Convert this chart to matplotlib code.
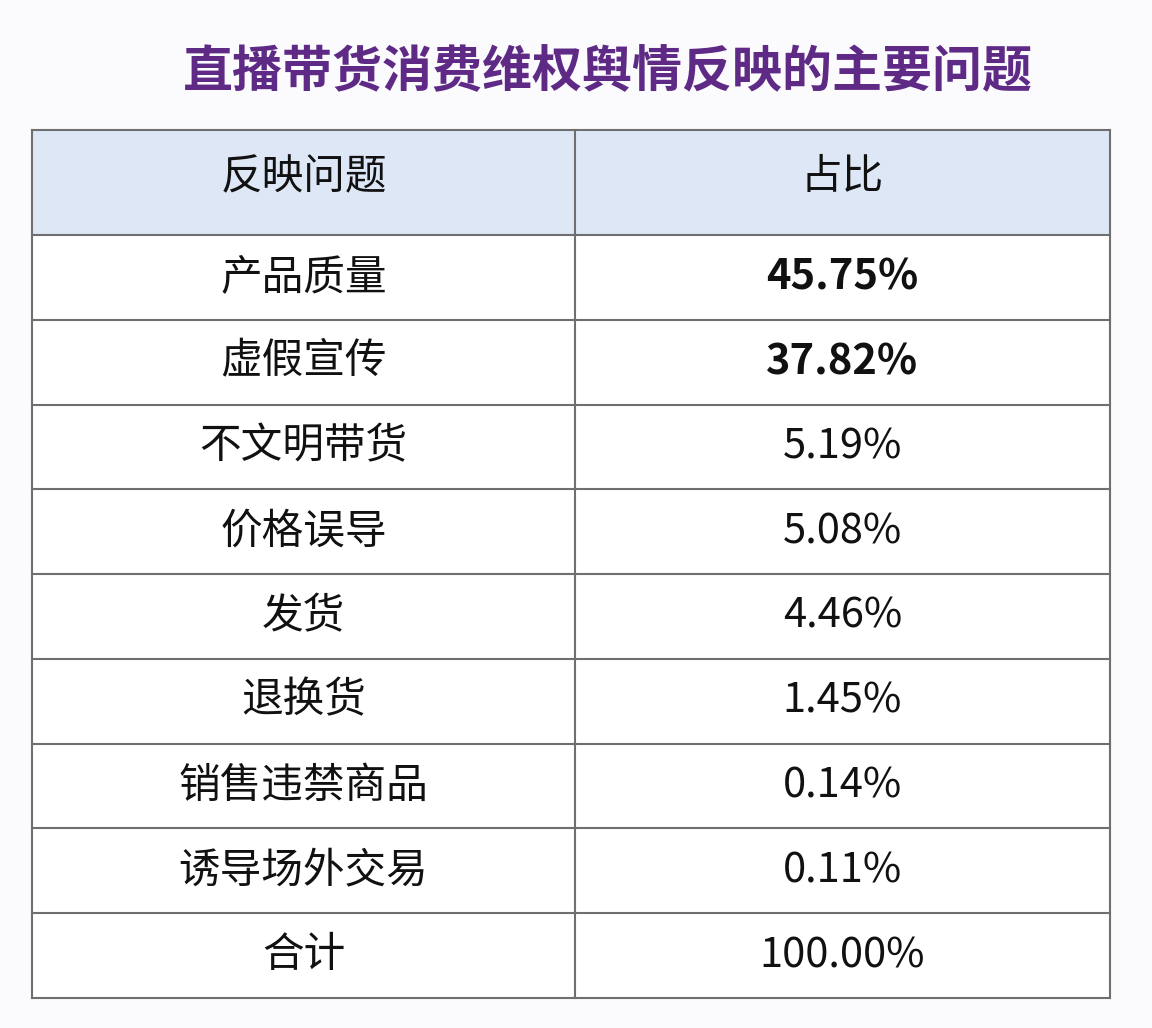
import matplotlib
matplotlib.use("Agg")
import matplotlib.pyplot as plt
from matplotlib.patches import Rectangle

plt.rcParams['font.family'] = ['Noto Sans CJK SC', 'DejaVu Sans']

title = "直播带货消费维权舆情反映的主要问题"
headers = ["反映问题", "占比"]
issues = ["产品质量", "虚假宣传", "不文明带货", "价格误导", "发货", "退换货",
          "销售违禁商品", "诱导场外交易", "合计"]
shares = ["45.75%", "37.82%", "5.19%", "5.08%", "4.46%", "1.45%", "0.14%", "0.11%", "100.00%"]
bold_rows = [0, 1]

W, H = 1152, 1028
fig = plt.figure(figsize=(W/100, H/100), dpi=100)
fig.patch.set_facecolor("#fbfbfd")
ax = fig.add_axes([0, 0, 1, 1])
ax.set_xlim(0, W); ax.set_ylim(H, 0); ax.axis("off")

ax.text(608, 73, title, ha="center", va="center", fontsize=36, fontweight="bold", color="#5e2a86")

L, R, M = 32, 1110, 575
top, hb, bottom = 130, 235, 998
rh = (bottom - hb) / len(issues)
lc = "#6f6f6f"
fs = 30

ax.add_patch(Rectangle((L, top), R-L, hb-top, facecolor="#dde7f6", edgecolor="none"))
ax.add_patch(Rectangle((L, hb), R-L, bottom-hb, facecolor="white", edgecolor="none"))
ax.text((L+M)/2, (top+hb)/2 - 5, headers[0], ha="center", va="center", fontsize=fs, color="#111")
ax.text((M+R)/2, (top+hb)/2 - 5, headers[1], ha="center", va="center", fontsize=fs, color="#111")
ys = [top, hb] + [hb + rh*(i+1) for i in range(len(issues))]
for y in ys:
    ax.plot([L, R], [y, y], color=lc, lw=1.5)
for x in (L, M, R):
    ax.plot([x, x], [top, bottom], color=lc, lw=1.5)
for i, (a, b) in enumerate(zip(issues, shares)):
    yc = hb + rh*(i+0.5)
    ax.text((L+M)/2, yc, a, ha="center", va="center", fontsize=fs, color="#111")
    ax.text((M+R)/2, yc, b, ha="center", va="center", fontsize=fs, color="#111",
            fontweight="bold" if i in bold_rows else "normal")

fig.savefig("out.png", dpi=100, facecolor=fig.get_facecolor())
